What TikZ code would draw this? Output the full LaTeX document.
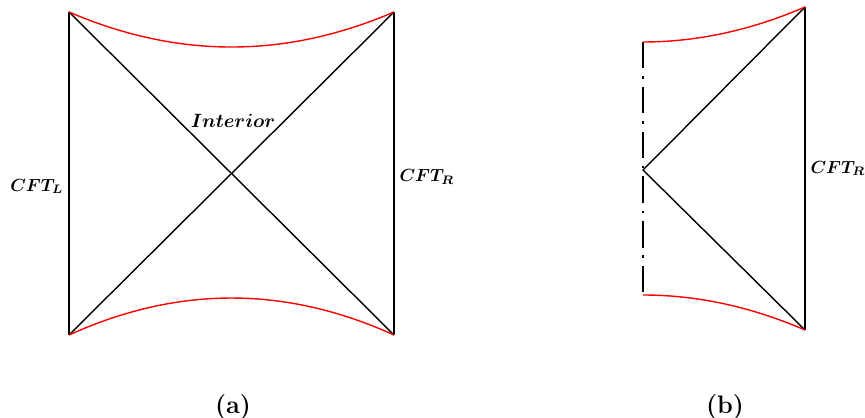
\documentclass[tikz,border=0pt]{standalone}
\usepackage{amsmath,amssymb,bm}
\usepackage{xcolor}
\usetikzlibrary{positioning,calc}

\begin{document}
\begin{tikzpicture}[
    x=0.02cm, y=-0.02cm,
    edge/.style={black, line width=0.8pt},
    horizon/.style={red, line width=0.8pt},
    origin/.style={black, line width=1.4pt, dash pattern=on 15pt off 4.5pt on 1.5pt off 4.5pt},
    lbl/.style={inner sep=1pt}
]
\useasboundingbox (0,0) rectangle (865,418);

% (a) two-sided black hole
\coordinate (tl) at (69,12);
\coordinate (tr) at (394,12);
\coordinate (bl) at (69,335);
\coordinate (br) at (394,335);

\draw[edge] (tl) -- (bl);
\draw[edge] (tr) -- (br);
\draw[edge] (tl) -- (br);
\draw[edge] (bl) -- (tr);
\draw[horizon] (tl) .. controls (177.7,58.7) and (285.3,58.7) .. (tr);
\draw[horizon] (bl) .. controls (177.7,285.7) and (285.3,285.7) .. (br);

\node[lbl] (interior) at (233,121) {\fontsize{10.8}{13}\selectfont$\boldsymbol{Interior}$};
\node[lbl, left=2pt of $(tl)!0.54!(bl)$] (cftl) {$\boldsymbol{CFT_L}$};
\node[lbl, right=2pt of $(tr)!0.51!(br)$] (cftr) {$\boldsymbol{CFT_R}$};
\node (capa) at (233,407) {\Large\textbf{(a)}};

% (b) one-sided
\coordinate (ot) at (643,42);
\coordinate (ob) at (643,295);
\coordinate (om) at (643,170);
\coordinate (rt) at (805,7);
\coordinate (rb) at (805,330);

\draw[origin] (ot) -- (ob);
\draw[edge] (rt) -- (rb);
\draw[edge] (rt) -- (om) -- (rb);
\draw[horizon] (ot) .. controls (697,42) and (751,30.3) .. (rt);
\draw[horizon] (ob) .. controls (697,295) and (751,306.7) .. (rb);

\node[lbl, right=2pt of $(rt)!0.5!(rb)$] (cftrb) {$\boldsymbol{CFT_R}$};
\node (capb) at (725,407) {\Large\textbf{(b)}};

\end{tikzpicture}
\end{document}
